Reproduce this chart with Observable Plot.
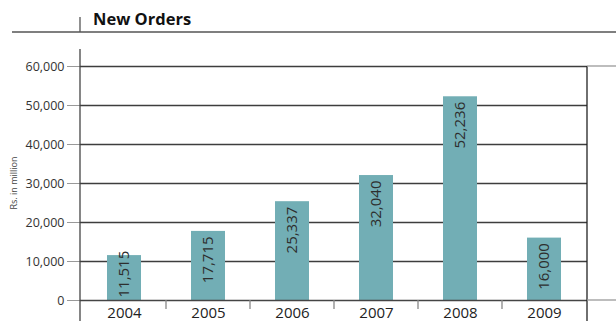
<!DOCTYPE html>
<html>
<head>
<meta charset="utf-8">
<script src="https://cdn.jsdelivr.net/npm/d3@7"></script>
<script src="https://cdn.jsdelivr.net/npm/@observablehq/plot@0.6"></script>
<style>
  html, body { margin: 0; padding: 0; background: #fff; }
  svg { font-family: "Open Sans", "Noto Sans", sans-serif; }
</style>
</head>
<body>
<div id="chart"></div>
<script>
const years = ["2004", "2005", "2006", "2007", "2008", "2009"];
const orders = [11515, 17715, 25337, 32040, 52236, 16000];
const yTicks = [0, 10000, 20000, 30000, 40000, 50000, 60000];
const title = "New Orders";
const yLabel = "Rs. in million";

const data = years.map((year, i) => ({ year, value: orders[i] }));
const fmt = d3.format(",");
const W = 616, H = 321;
const mL = 80, mR = 29, mT = 66, mB = 21;
// labels that fit below the bar top are hung from it; shorter bars get a base-anchored label
const fitsFromTop = d => d.value >= 13500;

const plot = Plot.plot({
  width: W,
  height: H,
  marginLeft: mL,
  marginRight: mR,
  marginTop: mT,
  marginBottom: mB,
  style: { fontFamily: "'Open Sans', 'Noto Sans', sans-serif", background: "#fff", overflow: "visible" },
  x: { domain: years, paddingInner: 0.6, paddingOuter: 0.3, label: null },
  y: { domain: [0, 60000], label: null },
  marks: [
    Plot.ruleY(yTicks.slice(1), { stroke: "#3d3d3d", strokeWidth: 1.3 }),
    Plot.barY(data, { x: "year", y: "value", fill: "#72aeb5" }),
    Plot.ruleY([0], { stroke: "#454545", strokeWidth: 1.3 }),
    Plot.text(data.filter(fitsFromTop), {
      x: "year", y: "value", text: d => fmt(d.value), rotate: -90,
      textAnchor: "end", dy: 5, fontSize: 15, fill: "#2e2e2e"
    }),
    Plot.text(data.filter(d => !fitsFromTop(d)), {
      x: "year", y: 0, text: d => fmt(d.value), rotate: -90,
      textAnchor: "start", dy: -3, fontSize: 15, fill: "#2e2e2e"
    }),
    Plot.axisY({
      ticks: yTicks, tickFormat: fmt, tickSize: 13, tickPadding: 3,
      stroke: "#999", fontSize: 12.5, fill: "#333", label: null
    }),
    Plot.axisX({
      tickSize: 0, tickPadding: 7, fontSize: 15, fill: "#222", label: null
    })
  ]
});

document.getElementById("chart").appendChild(plot);

const svg = d3.select(plot);
const xs = plot.scale("x");
const step = xs.step;
const bw = xs.bandwidth;
const deco = svg.append("g");

// band boundary ticks below the baseline
years.slice(1).forEach(y => {
  const bx = xs.apply(y) - (step - bw) / 2;
  deco.append("line").attr("x1", bx).attr("x2", bx).attr("y1", H - mB).attr("y2", H - mB + 9)
    .attr("stroke", "#888").attr("stroke-width", 1.3);
});

// left and right frame lines
deco.append("line").attr("x1", mL).attr("x2", mL).attr("y1", 49).attr("y2", H)
  .attr("stroke", "#444").attr("stroke-width", 1.3);
deco.append("line").attr("x1", W - mR).attr("x2", W - mR).attr("y1", mT).attr("y2", H)
  .attr("stroke", "#222").attr("stroke-width", 1.3);

// light extensions beyond the right frame
[mT, H - mB].forEach(yy => {
  deco.append("line").attr("x1", W - mR).attr("x2", W).attr("y1", yy).attr("y2", yy)
    .attr("stroke", "#999").attr("stroke-width", 1.3);
});

// header rule and title
deco.append("line").attr("x1", 12).attr("x2", W).attr("y1", 32).attr("y2", 32)
  .attr("stroke", "#555").attr("stroke-width", 1.3);
deco.append("line").attr("x1", mL).attr("x2", mL).attr("y1", 17).attr("y2", 32)
  .attr("stroke", "#555").attr("stroke-width", 1.3);
deco.append("text").attr("x", 93).attr("y", 25).attr("text-anchor", "start").text(title)
  .attr("font-size", 16.5).attr("font-weight", "bold").attr("fill", "#111");

// y axis label
deco.append("text").attr("transform", `translate(17,${(mT + H - mB) / 2}) rotate(-90)`)
  .attr("text-anchor", "middle").attr("font-size", 9).attr("fill", "#444").text(yLabel);
</script>
</body>
</html>
